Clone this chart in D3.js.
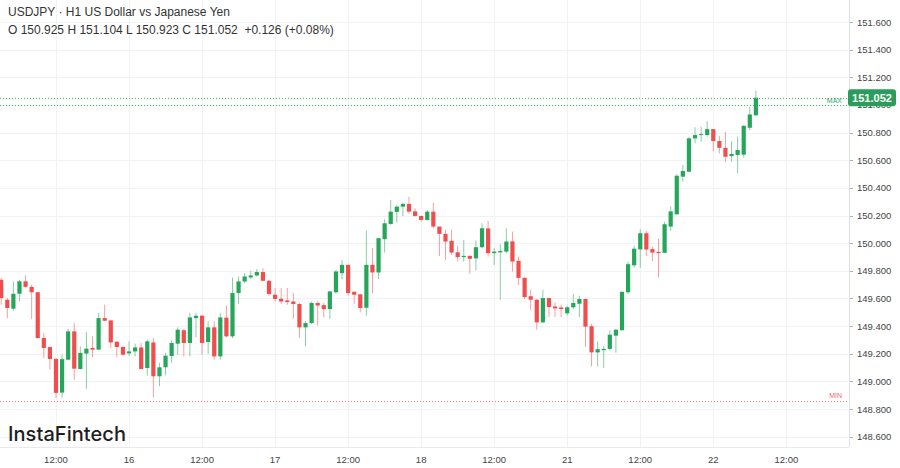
<!DOCTYPE html>
<html>
<head>
<meta charset="utf-8">
<script src="https://cdn.jsdelivr.net/npm/d3@7"></script>
<style>
  body { margin: 0; background: #fff; }
  text { font-family: "Liberation Sans", Arial, sans-serif; }
</style>
</head>
<body>
<div id="chart"></div>
<script>
// hourly candles, oldest first (15th 03:00 .. 22nd 14:00)
const opens = [149.735,149.591,149.526,149.634,149.724,149.684,149.645,149.314,149.248,149.162,148.919,149.157,149.362,149.090,149.201,149.242,149.230,149.458,149.441,149.287,149.249,149.203,149.217,149.246,149.097,149.282,149.037,149.102,149.184,149.273,149.370,149.278,149.458,149.475,149.285,149.391,149.181,149.461,149.326,149.639,149.723,149.752,149.766,149.791,149.728,149.627,149.598,149.586,149.578,149.560,149.391,149.422,149.567,149.552,149.523,149.645,149.783,149.843,149.648,149.630,149.533,149.843,149.788,150.029,150.139,150.226,150.264,150.284,150.230,150.197,150.168,150.228,150.120,150.067,150.017,149.934,149.899,149.908,149.890,149.971,150.107,149.928,149.934,149.939,150.013,149.872,149.749,149.616,149.591,149.427,149.603,149.542,149.535,149.493,149.536,149.562,149.596,149.399,149.210,149.226,149.235,149.331,149.370,149.645,149.840,149.955,150.072,149.957,149.937,149.930,150.120,150.209,150.481,150.517,150.758,150.782,150.782,150.825,150.739,150.690,150.630,150.638,150.640,150.835,150.925];
const highs = [149.749,149.603,149.724,149.735,149.768,149.699,149.648,149.350,149.253,149.170,149.193,149.379,149.422,149.253,149.357,149.326,149.495,149.555,149.446,149.290,149.253,149.290,149.273,149.278,149.302,149.314,149.134,149.206,149.295,149.391,149.378,149.495,149.495,149.482,149.434,149.434,149.495,149.549,149.752,149.759,149.783,149.800,149.814,149.819,149.735,149.675,149.675,149.675,149.639,149.567,149.434,149.578,149.578,149.567,149.651,149.807,149.879,149.843,149.651,149.634,150.091,149.964,150.036,150.173,150.313,150.277,150.293,150.336,150.253,150.199,150.240,150.293,150.120,150.096,150.096,149.981,150.024,149.912,150.019,150.144,150.161,149.964,149.993,150.108,150.084,149.903,149.753,149.663,149.596,149.663,149.605,149.571,149.555,149.547,149.634,149.620,149.598,149.417,149.290,149.258,149.369,149.379,149.651,149.867,149.983,150.101,150.089,149.975,150.031,150.156,150.266,150.498,150.565,150.770,150.838,150.842,150.883,150.825,150.777,150.806,150.739,150.770,150.854,150.986,151.104];
const lows = [149.555,149.457,149.513,149.578,149.677,149.451,149.309,149.170,149.085,148.881,148.881,149.152,149.013,149.085,148.946,149.177,149.225,149.434,149.242,149.177,149.186,149.186,149.181,149.085,149.042,148.885,148.965,149.044,149.134,149.193,149.181,149.181,149.318,149.193,149.199,149.157,149.157,149.318,149.314,149.560,149.711,149.740,149.759,149.723,149.622,149.578,149.560,149.555,149.453,149.314,149.253,149.415,149.403,149.463,149.451,149.634,149.740,149.620,149.562,149.499,149.475,149.639,149.740,149.932,150.132,150.149,150.197,150.212,150.192,150.156,150.163,150.108,149.908,149.879,149.916,149.867,149.867,149.778,149.802,149.964,149.903,149.843,149.591,149.928,149.795,149.699,149.598,149.518,149.374,149.422,149.466,149.466,149.466,149.475,149.523,149.466,149.249,149.109,149.109,149.097,149.225,149.208,149.369,149.632,149.824,149.822,149.908,149.869,149.753,149.928,150.089,150.204,150.445,150.517,150.722,150.734,150.770,150.666,150.650,150.585,150.589,150.505,150.618,150.818,150.923];
const closes = [149.603,149.531,149.634,149.724,149.684,149.645,149.314,149.242,149.162,148.917,149.161,149.362,149.092,149.206,149.237,149.230,149.458,149.439,149.282,149.249,149.193,149.217,149.246,149.090,149.290,149.037,149.102,149.186,149.278,149.374,149.278,149.463,149.475,149.278,149.391,149.181,149.463,149.326,149.639,149.723,149.759,149.766,149.791,149.728,149.632,149.596,149.578,149.574,149.560,149.391,149.422,149.567,149.549,149.523,149.651,149.795,149.843,149.639,149.627,149.531,149.843,149.788,150.036,150.144,150.228,150.264,150.284,150.228,150.197,150.168,150.228,150.120,150.067,150.012,149.932,149.899,149.908,149.887,149.971,150.108,149.928,149.939,149.944,150.012,149.867,149.749,149.610,149.591,149.427,149.603,149.538,149.528,149.523,149.536,149.567,149.596,149.396,149.210,149.233,149.235,149.338,149.374,149.648,149.848,149.960,150.072,149.954,149.932,149.928,150.137,150.230,150.488,150.522,150.758,150.782,150.789,150.825,150.739,150.690,150.625,150.645,150.674,150.849,150.931,151.052];

// x axis labels sit on bar indices
const tickBars = [9, 21, 33, 45, 57, 69, 81, 93, 105, 117, 129];
const tickLabels = ["12:00", "16", "12:00", "17", "12:00", "18", "12:00", "21", "12:00", "22", "12:00"];

const priceTicks = d3.range(148.6, 151.601, 0.2);
const lastPrice = 151.052;
const maxLevel = 150.998;
const minLevel = 148.855;

const W = 900, H = 468;
const plotRight = 849, plotBottom = 447;
const green = "#26a65b", red = "#f04e4e";

const svg = d3.select("#chart").append("svg")
    .attr("width", W)
    .attr("height", H);

svg.append("rect").attr("width", W).attr("height", H).attr("fill", "#fff");

const x = d3.scaleLinear().domain([-0.2, 139.3]).range([0, plotRight]);
const y = d3.scaleLinear().domain([148.6, 151.6]).range([436.7, 22]);

// grid
svg.append("g").selectAll("line")
    .data(priceTicks)
  .enter().append("line")
    .attr("x1", 0).attr("x2", plotRight)
    .attr("y1", d => Math.round(y(d)) + 0.5)
    .attr("y2", d => Math.round(y(d)) + 0.5)
    .attr("stroke", "#f0f2f5");

svg.append("g").selectAll("line")
    .data(tickBars)
  .enter().append("line")
    .attr("x1", d => Math.round(x(d)) + 0.5)
    .attr("x2", d => Math.round(x(d)) + 0.5)
    .attr("y1", 0).attr("y2", plotBottom)
    .attr("stroke", "#f0f2f5");

// candles
const candles = opens.map((o, i) => ({i, o, h: highs[i], l: lows[i], c: closes[i]}));
const bw = 4.2;

const g = svg.append("g");
g.selectAll(".wick")
    .data(candles)
  .enter().append("line")
    .attr("class", "wick")
    .attr("x1", d => x(d.i)).attr("x2", d => x(d.i))
    .attr("y1", d => y(d.h)).attr("y2", d => y(d.l))
    .attr("stroke", d => d.c >= d.o ? green : red)
    .attr("stroke-opacity", 0.55)
    .attr("stroke-width", 1);

g.selectAll(".body")
    .data(candles)
  .enter().append("rect")
    .attr("class", "body")
    .attr("x", d => x(d.i) - bw / 2)
    .attr("width", bw)
    .attr("y", d => y(Math.max(d.o, d.c)))
    .attr("height", d => Math.max(1, Math.abs(y(d.o) - y(d.c))))
    .attr("fill", d => d.c >= d.o ? green : red);

// price / max / min lines
function level(v, color) {
  svg.append("line")
      .attr("x1", 0).attr("x2", plotRight)
      .attr("y1", Math.round(y(v)) + 0.5).attr("y2", Math.round(y(v)) + 0.5)
      .attr("stroke", color)
      .attr("stroke-width", 1)
      .attr("stroke-dasharray", "1,2");
}
level(lastPrice, "#3fb872");
level(maxLevel, "#3fb872");
level(minLevel, "#f07a7a");

svg.append("text")
    .attr("x", 842).attr("y", y(maxLevel) - 2)
    .attr("text-anchor", "end")
    .attr("font-size", 7)
    .attr("fill", "#2fa865")
    .text("MAX");
svg.append("text")
    .attr("x", 842).attr("y", y(minLevel) - 3)
    .attr("text-anchor", "end")
    .attr("font-size", 7)
    .attr("fill", "#f06a6a")
    .text("MIN");

// axes borders
svg.append("line")
    .attr("x1", plotRight + 0.5).attr("x2", plotRight + 0.5)
    .attr("y1", 0).attr("y2", plotBottom)
    .attr("stroke", "#d9dee8");
svg.append("line")
    .attr("x1", 0).attr("x2", plotRight)
    .attr("y1", plotBottom + 0.5).attr("y2", plotBottom + 0.5)
    .attr("stroke", "#e6e9ef");

// right price axis (the badge is drawn on top, half covering 151.000 as in the original)
const yAxis = svg.append("g");
yAxis.selectAll("line")
    .data(priceTicks)
  .enter().append("line")
    .attr("x1", plotRight + 1).attr("x2", plotRight + 4)
    .attr("y1", d => Math.round(y(d)) + 0.5)
    .attr("y2", d => Math.round(y(d)) + 0.5)
    .attr("stroke", "#aab0bb");
yAxis.selectAll("text")
    .data(priceTicks)
  .enter().append("text")
    .attr("x", 857)
    .attr("y", d => y(d) + 3.5)
    .attr("font-size", 9.5)
    .attr("fill", "#444")
    .text(d => d3.format(".3f")(d));

// last price badge
svg.append("rect")
    .attr("x", 848).attr("y", y(lastPrice) - 8.5)
    .attr("width", 48).attr("height", 17)
    .attr("rx", 3)
    .attr("fill", "#2a9d5c");
svg.append("text")
    .attr("x", 872).attr("y", y(lastPrice) + 4)
    .attr("text-anchor", "middle")
    .attr("font-size", 11)
    .attr("font-weight", "bold")
    .attr("fill", "#fff")
    .text(d3.format(".3f")(lastPrice));

// bottom time axis
svg.append("g").selectAll("text")
    .data(tickBars)
  .enter().append("text")
    .attr("x", d => x(d))
    .attr("y", 463)
    .attr("text-anchor", "middle")
    .attr("font-size", 9.5)
    .attr("fill", "#444")
    .text((d, i) => tickLabels[i]);

// header
svg.append("text")
    .attr("x", 8).attr("y", 16)
    .attr("font-size", 12)
    .attr("fill", "#333")
    .text("USDJPY \u00b7 H1 US Dollar vs Japanese Yen");
svg.append("text")
    .attr("x", 8).attr("y", 34)
    .attr("font-size", 12)
    .attr("fill", "#333")
    .attr("xml:space", "preserve")
    .style("white-space", "pre")
    .text("O 150.925 H 151.104 L 150.923 C 151.052  +0.126 (+0.08%)");

// logo
svg.append("text")
    .attr("x", 8).attr("y", 441)
    .attr("font-size", 20)
    .attr("font-weight", 500)
    .attr("fill", "#1e1e1e")
    .style("font-family", "Inter, 'Noto Sans', sans-serif")
    .attr("textLength", 118)
    .text("InstaFintech");
</script>
</body>
</html>
